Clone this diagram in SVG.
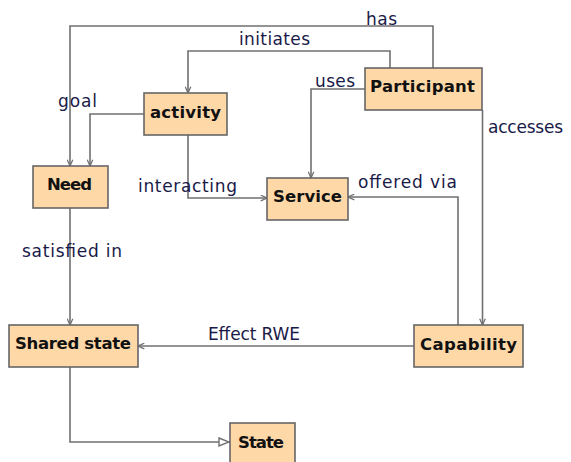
<svg xmlns="http://www.w3.org/2000/svg" width="571" height="462" viewBox="0 0 571 462">
  <style>
    .box { fill: #FFD8A8; stroke: #666666; stroke-width: 1.6; }
    .name { font-family: "DejaVu Sans", Verdana, sans-serif; font-size: 16.5px; font-weight: bold; fill: #111111; }
    .lbl { font-family: "DejaVu Sans", Verdana, sans-serif; font-size: 17px; fill: #1a1a48; }
    .edge { fill: none; stroke: #707070; stroke-width: 1.6; }
  </style>
  <defs>
    <marker id="arrow" viewBox="0 0 10 10" refX="10" refY="5" markerWidth="7" markerHeight="7" markerUnits="userSpaceOnUse" orient="auto">
      <path d="M1,1 L10,5 L1,9" fill="none" stroke="#707070" stroke-width="1.8"/>
    </marker>
    <marker id="hollow" viewBox="0 0 12 10" refX="12" refY="5" markerWidth="12" markerHeight="10" markerUnits="userSpaceOnUse" orient="auto">
      <path d="M1,1 L11,5 L1,9 Z" fill="#ffffff" stroke="#707070" stroke-width="1.4"/>
    </marker>
  </defs>
  <rect width="571" height="462" fill="#ffffff"/>

  <!-- connectors -->
  <g id="connectors">
    <path class="edge" d="M433,68 V26 H70 V166" marker-end="url(#arrow)"/>
    <path class="edge" d="M390,68 V51 H188 V93" marker-end="url(#arrow)"/>
    <path class="edge" d="M365,89 H311 V178" marker-end="url(#arrow)"/>
    <path class="edge" d="M482.5,110 V325" marker-end="url(#arrow)"/>
    <path class="edge" d="M458,325 V197 H348" marker-end="url(#arrow)"/>
    <path class="edge" d="M144,114 H90 V166" marker-end="url(#arrow)"/>
    <path class="edge" d="M188,135 V198 H267" marker-end="url(#arrow)"/>
    <path class="edge" d="M70,208 V325" marker-end="url(#arrow)"/>
    <path class="edge" d="M414,346 H138" marker-end="url(#arrow)"/>
    <path class="edge" d="M70,367 V442 H230" marker-end="url(#hollow)"/>

    <text class="lbl" x="366" y="25" textLength="31" lengthAdjust="spacing">has</text>
    <text class="lbl" x="239" y="45" textLength="71" lengthAdjust="spacing">initiates</text>
    <text class="lbl" x="315" y="87" textLength="40" lengthAdjust="spacing">uses</text>
    <text class="lbl" x="58" y="107" textLength="39" lengthAdjust="spacing">goal</text>
    <text class="lbl" x="138" y="192" textLength="99" lengthAdjust="spacing">interacting</text>
    <text class="lbl" x="358" y="188" textLength="99" lengthAdjust="spacing">offered via</text>
    <text class="lbl" x="488" y="133" textLength="75" lengthAdjust="spacing">accesses</text>
    <text class="lbl" x="22" y="257" textLength="100" lengthAdjust="spacing">satisfied in</text>
    <text class="lbl" x="208" y="340" textLength="92" lengthAdjust="spacing">Effect RWE</text>
  </g>

  <!-- nodes -->
  <g id="participant">
    <rect class="box" x="365" y="68" width="117" height="42"/>
    <text class="name" x="370" y="92" textLength="105" lengthAdjust="spacing">Participant</text>
  </g>
  <g id="activity">
    <rect class="box" x="144" y="93" width="83" height="42"/>
    <text class="name" x="150" y="118" textLength="71" lengthAdjust="spacing">activity</text>
  </g>
  <g id="need">
    <rect class="box" x="33" y="166" width="75" height="42"/>
    <text class="name" x="47" y="190" textLength="45" lengthAdjust="spacing">Need</text>
  </g>
  <g id="service">
    <rect class="box" x="267" y="178" width="81" height="42"/>
    <text class="name" x="273" y="202" textLength="69" lengthAdjust="spacing">Service</text>
  </g>
  <g id="shared-state">
    <rect class="box" x="9" y="325" width="129" height="42"/>
    <text class="name" x="15" y="349" textLength="116" lengthAdjust="spacing">Shared state</text>
  </g>
  <g id="capability">
    <rect class="box" x="414" y="325" width="109" height="42"/>
    <text class="name" x="420" y="350" textLength="97" lengthAdjust="spacing">Capability</text>
  </g>
  <g id="state">
    <rect class="box" x="230" y="423" width="65" height="42"/>
    <text class="name" x="238" y="448" textLength="46" lengthAdjust="spacing">State</text>
  </g>
</svg>
